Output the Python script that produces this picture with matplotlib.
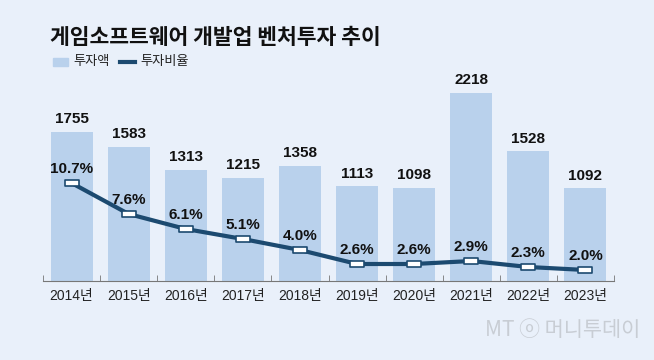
import numpy as np
import matplotlib
matplotlib.use('Agg')
from matplotlib import pyplot as plt
from matplotlib.path import Path

plt.rcParams['font.family'] = ['Noto Sans CJK KR', 'DejaVu Sans']
NUMFONT = ['Liberation Sans', 'Noto Sans CJK KR']

years = ['2014년', '2015년', '2016년', '2017년', '2018년',
         '2019년', '2020년', '2021년', '2022년', '2023년']
invest = [1755, 1583, 1313, 1215, 1358, 1113, 1098, 2218, 1528, 1092]
ratio = [10.7, 7.6, 6.1, 5.1, 4.0, 2.6, 2.6, 2.9, 2.3, 2.0]

BG = '#e9f0fa'
BAR = '#b9d1ec'
NAVY = '#1c4a70'

fig = plt.figure(figsize=(6.54, 3.6), dpi=100, facecolor=BG)
W, H = 654, 360
ax = fig.add_axes([43 / W, 1 - 281 / H, 571 / W, 201 / H])
ax.set_facecolor('none')

x = np.arange(len(years))
ax.bar(x, invest, width=0.735, color=BAR, zorder=1)
for xi, v in zip(x, invest):
    ax.annotate(f'{v}', (xi, v), xytext=(0, 4), textcoords='offset points',
                ha='center', va='bottom', fontsize=11, fontweight='bold',
                color='#111111', family=NUMFONT)

ax.set_xlim(-0.5, len(years) - 0.5)
ax.set_ylim(0, 2367)
ax.set_yticks([])
ax.set_xticks(x)
ax.set_xticklabels(years, fontsize=10, color='#222222', family=NUMFONT)
ax.tick_params(axis='x', which='major', length=0, pad=6)
ax.set_xticks(np.arange(-0.5, len(years)), minor=True)
ax.tick_params(axis='x', which='minor', direction='in', length=4, color='#777777')
for s in ['top', 'right', 'left']:
    ax.spines[s].set_visible(False)
ax.spines['bottom'].set_color('#777777')
ax.spines['bottom'].set_linewidth(0.8)

ax2 = ax.twinx()
ax2.set_ylim(0.9, 21.0)
ax2.axis('off')
rect = Path([(-1, -0.5), (1, -0.5), (1, 0.5), (-1, 0.5), (-1, -0.5)],
            [Path.MOVETO, Path.LINETO, Path.LINETO, Path.LINETO, Path.CLOSEPOLY])
ax2.plot(x, ratio, color=NAVY, lw=3, marker=rect, markersize=9.5,
         markerfacecolor='white', markeredgecolor=NAVY, markeredgewidth=1.2, zorder=3)
for xi, v in zip(x, ratio):
    ax2.annotate(f'{v:.1f}%', (xi, v), xytext=(0, 5), textcoords='offset points',
                 ha='center', va='bottom', fontsize=11, fontweight='bold',
                 color='#111111', family=NUMFONT)

fig.text(50 / W, 1 - 38 / H, '게임소프트웨어 개발업 벤처투자 추이', fontsize=15.5,
         fontweight='bold', va='center', ha='left', color='#111111')

# legend
fig.patches.append(plt.Rectangle((53 / W, 1 - 66 / H), 15 / W, 8 / H,
                                 transform=fig.transFigure, color=BAR, figure=fig))
fig.text(73 / W, 1 - 62 / H, '투자액', fontsize=9.5, va='center', ha='left', color='#222222')
fig.lines.append(plt.Line2D([120 / W, 135 / W], [1 - 62 / H, 1 - 62 / H],
                            transform=fig.transFigure, color=NAVY, lw=3, figure=fig))
fig.text(140 / W, 1 - 62 / H, '투자비율', fontsize=9.5, va='center', ha='left', color='#222222')

fig.text(640 / W, 1 - 330 / H, 'MT ⓞ 머니투데이', fontsize=15, va='center', ha='right',
         color='#c8cdd4', family=['Noto Sans CJK KR', 'DejaVu Sans'])

fig.savefig('out.png', dpi=100, facecolor=BG)
